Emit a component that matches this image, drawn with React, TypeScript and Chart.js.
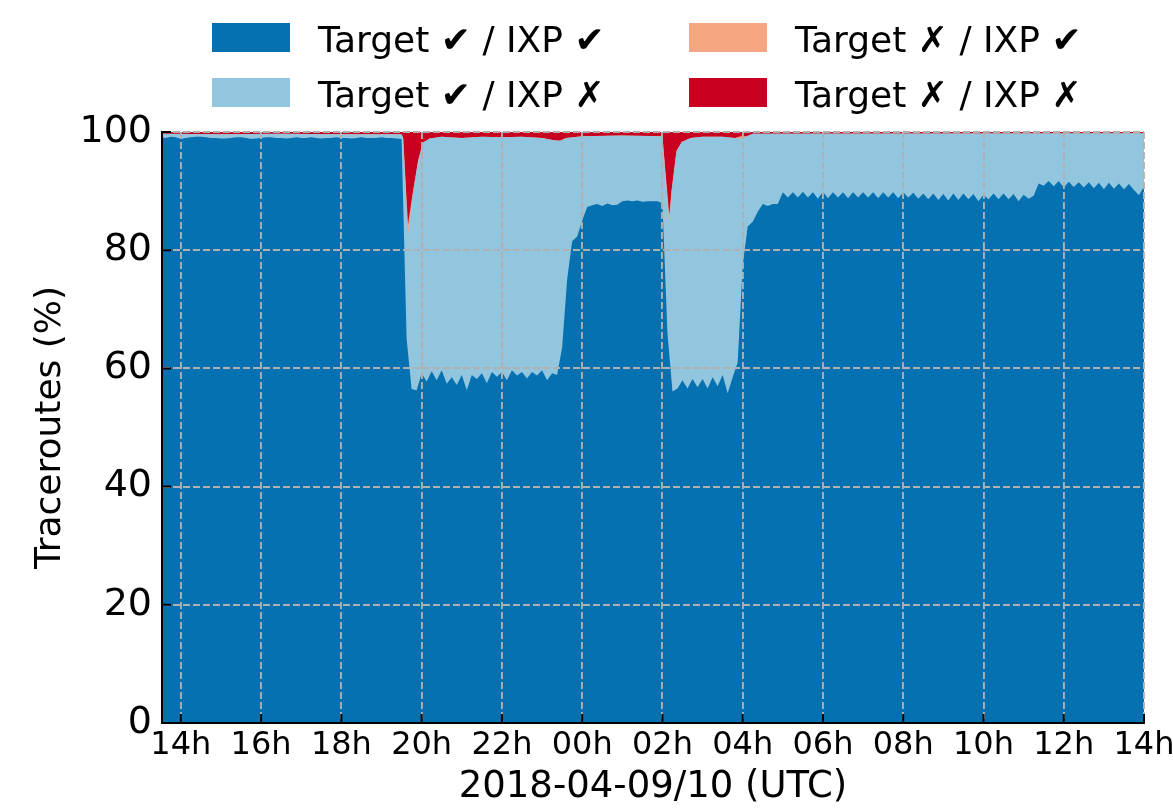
import React, { useEffect, useRef } from 'react';
import { Chart, registerables } from 'chart.js';

Chart.register(...registerables);

// ---- Data (hours since 2018-04-09 00:00 UTC) ----
const SAMPLE_START_HOUR = 13.5;
const SAMPLE_STEP_HOURS = 0.125;

// Target ✔ / IXP ✔ (%), one value per 7.5-minute sample from 13:30 to 14:00 next day
const darkBlue = [
  99.1, 99.0, 99.2, 99.1, 98.8, 99.0, 99.1, 99.2, 99.2, 99.1,
  99.0, 99.0, 98.9, 98.9, 99.0, 99.1, 99.1, 99.0, 98.8, 98.9,
  99.0, 99.1, 99.1, 99.0, 99.0, 98.9, 99.0, 99.1, 99.0, 99.0,
  99.1, 99.0, 98.9, 99.0, 99.0, 99.1, 99.0, 99.0, 98.9, 99.0,
  99.1, 99.0, 99.0, 99.0, 99.1, 99.0, 99.0, 98.9, 98.8,
  65.0, 56.5, 56.3, 59.2, 57.8, 59.5, 58.0, 59.7, 57.4, 58.5,
  57.2, 58.9, 56.3, 58.9, 58.2, 59.2, 57.5, 59.4, 58.6, 59.4,
  58.0, 59.7, 58.8, 59.4, 58.3, 59.4, 58.8, 59.7, 58.0, 59.2, 58.9,
  63.5, 75.0, 81.5, 82.3, 85.0, 87.3, 87.6, 87.8, 87.5, 87.9,
  87.6, 87.7, 88.3, 88.4, 88.3, 88.4, 88.2, 88.3, 88.3, 88.3,
  88.0, 66.0, 56.1, 56.6, 58.0, 56.6, 58.2, 56.8, 58.2, 56.6,
  58.5, 57.0, 58.9, 55.8, 58.5, 61.0, 77.5, 84.0, 84.8, 86.5,
  87.8, 87.5, 87.8, 87.8,
  89.8, 88.9, 89.8, 88.9, 89.9, 88.9, 89.8, 88.7, 89.9, 88.8,
  89.8, 88.9, 89.8, 88.8, 89.8, 88.9, 89.8, 88.9, 89.8, 88.8,
  89.8, 88.9, 89.8, 88.8, 89.8, 88.9, 89.7, 88.7, 89.6, 88.6,
  89.6, 88.5, 89.5, 88.4, 89.6, 88.5, 89.6, 88.6, 89.5, 88.3,
  89.4, 88.6, 89.6, 88.6, 89.6, 88.6, 89.5, 88.3, 89.4, 88.7,
  89.2, 91.3, 90.9, 91.7, 90.8, 91.7, 90.6, 91.6, 90.7, 91.5,
  90.6, 91.5, 90.5, 91.4, 90.3, 91.4, 90.4, 91.3, 90.3, 91.2,
  90.2, 89.3, 90.8,
];

// Upper edges of the stacked layers (cumulative %), read at these hours
const edgeHours = [
  13.5, 15.0, 16.5, 18.0, 19.5, 19.54, 19.66, 19.78, 19.91, 20.03,
  20.2, 20.5, 21.0, 21.5, 22.0, 22.5, 23.0, 23.3, 23.45, 23.6,
  24.0, 25.0, 26.0, 26.17, 26.23, 26.35, 26.48, 26.7, 27.0, 27.5,
  27.8, 27.95, 28.1, 28.25, 38.0,
];
const lightBlueTop = [
  99.7, 99.6, 99.7, 99.6, 99.6, 99.0, 82.6, 89.5, 95.0, 98.2,
  98.9, 99.2, 99.0, 99.2, 99.1, 99.2, 99.0, 98.6, 98.5, 99.0,
  99.3, 99.4, 99.3, 84.5, 90.0, 96.7, 98.3, 99.0, 99.2, 99.2,
  99.0, 98.9, 99.3, 99.7, 99.8,
];
const salmonTop = [
  99.7, 99.6, 99.7, 99.6, 99.6, 99.0, 84.3, 89.8, 95.1, 98.2,
  98.9, 99.2, 99.0, 99.2, 99.1, 99.2, 99.0, 98.6, 98.5, 99.0,
  99.3, 99.4, 99.3, 86.0, 90.3, 96.8, 98.3, 99.0, 99.2, 99.2,
  99.0, 99.3, 99.3, 99.7, 99.8,
];
const redTopHours = [13.5, 38.0];
const redTop = [100, 100];

const xTickHours = [14, 16, 18, 20, 22, 24, 26, 28, 30, 32, 34, 36, 38];
const xTickLabels = ['14h', '16h', '18h', '20h', '22h', '00h', '02h', '04h', '06h', '08h', '10h', '12h', '14h'];
const yTickValues = [0, 20, 40, 60, 80, 100];

const seriesLabels = ['Target ✔ / IXP ✔', 'Target ✔ / IXP ✗', 'Target ✗ / IXP ✔', 'Target ✗ / IXP ✗'];
const seriesColors = ['#0571b0', '#92c5de', '#f4a582', '#ca0020'];

const FONT = 'DejaVu Sans';

const legendPlugin = {
  id: 'mplLegend',
  afterDraw(chart: any) {
    const ctx = chart.ctx;
    const boxX = [212, 689];
    const textX = [318, 795];
    const boxTop = [23, 78];
    const baseline = [52, 107];
    ctx.save();
    ctx.font = `36px "${FONT}"`;
    ctx.textBaseline = 'alphabetic';
    ctx.textAlign = 'left';
    for (let col = 0; col < 2; col++) {
      for (let row = 0; row < 2; row++) {
        const k = col * 2 + row;
        ctx.fillStyle = seriesColors[k];
        ctx.fillRect(boxX[col], boxTop[row], 78, 29);
        ctx.fillStyle = '#000';
        ctx.fillText(seriesLabels[k], textX[col], baseline[row]);
      }
    }
    ctx.restore();
  },
};

const innerTicksPlugin = {
  id: 'innerTicks',
  afterDraw(chart: any) {
    const ctx = chart.ctx;
    const xs = chart.scales.x;
    const ys = chart.scales.y;
    const { left, bottom } = chart.chartArea;
    ctx.save();
    ctx.strokeStyle = '#000';
    ctx.lineWidth = 2;
    ctx.beginPath();
    xTickHours.forEach((h) => {
      const px = xs.getPixelForValue(h);
      ctx.moveTo(px, bottom);
      ctx.lineTo(px, bottom - 9);
    });
    yTickValues.forEach((v) => {
      const py = ys.getPixelForValue(v);
      ctx.moveTo(left, py);
      ctx.lineTo(left + 9, py);
    });
    ctx.stroke();
    ctx.restore();
  },
};

export default function App() {
  const canvasRef = useRef<HTMLCanvasElement | null>(null);

  useEffect(() => {
    if (!canvasRef.current) return;
    const darkPts = darkBlue.map((y, i) => ({ x: SAMPLE_START_HOUR + i * SAMPLE_STEP_HOURS, y }));
    const lightPts = edgeHours.map((x, i) => ({ x, y: lightBlueTop[i] }));
    const salmonPts = edgeHours.map((x, i) => ({ x, y: salmonTop[i] }));
    const redPts = redTopHours.map((x, i) => ({ x, y: redTop[i] }));
    const layers = [darkPts, lightPts, salmonPts, redPts];

    const chart = new Chart(canvasRef.current, {
      type: 'line',
      data: {
        datasets: layers.map((pts, k) => ({
          label: seriesLabels[k],
          data: pts,
          backgroundColor: seriesColors[k],
          borderColor: seriesColors[k],
          borderWidth: 0,
          pointRadius: 0,
          tension: 0,
          fill: 'origin',
        })),
      },
      options: {
        responsive: false,
        animation: false,
        events: [],
        layout: { padding: { top: 132, right: 29, left: 0, bottom: 0 } },
        plugins: {
          legend: { display: false },
          tooltip: { enabled: false },
        },
        scales: {
          x: {
            type: 'linear',
            min: 13.53,
            max: 38,
            afterFit: (s: any) => { s.height = 87; s.paddingLeft = 0; s.paddingRight = 0; },
            afterBuildTicks: (s: any) => { s.ticks = xTickHours.map((v) => ({ value: v })); },
            ticks: {
              autoSkip: false,
              maxRotation: 0,
              padding: 3,
              color: '#000',
              font: { family: FONT, size: 32 },
              callback: (_v: any, i: number) => xTickLabels[i],
            },
            grid: { z: 1, color: '#b0b0b0', lineWidth: 1.9, drawTicks: false },
            border: { z: 2, display: true, color: '#000', width: 2, dash: [7, 3] },
            title: {
              display: true,
              text: '2018-04-09/10 (UTC)',
              color: '#000',
              font: { family: FONT, size: 37 },
              padding: { top: 0, bottom: 0 },
            },
          },
          y: {
            type: 'linear',
            min: 0,
            max: 100,
            afterFit: (s: any) => { s.width = 162; s.paddingTop = 0; s.paddingBottom = 0; },
            afterBuildTicks: (s: any) => { s.ticks = yTickValues.map((v) => ({ value: v })); },
            ticks: {
              padding: 10,
              color: '#000',
              font: { family: FONT, size: 38 },
            },
            grid: { z: 1, color: '#b0b0b0', lineWidth: 1.9, drawTicks: false },
            border: { z: 2, display: true, color: '#000', width: 2, dash: [7, 3] },
            title: {
              display: true,
              text: 'Traceroutes (%)',
              color: '#000',
              font: { family: FONT, size: 36 },
              padding: { top: 29, bottom: 0 },
            },
          },
        },
      },
      plugins: [innerTicksPlugin, legendPlugin],
    } as any);

    return () => chart.destroy();
  }, []);

  return (
    <div style={{ position: 'absolute', left: 0, top: 0, width: 1173, height: 810, background: '#fff' }}>
      <canvas ref={canvasRef} width={1173} height={810} style={{ width: 1173, height: 810, display: 'block' }} />
    </div>
  );
}
